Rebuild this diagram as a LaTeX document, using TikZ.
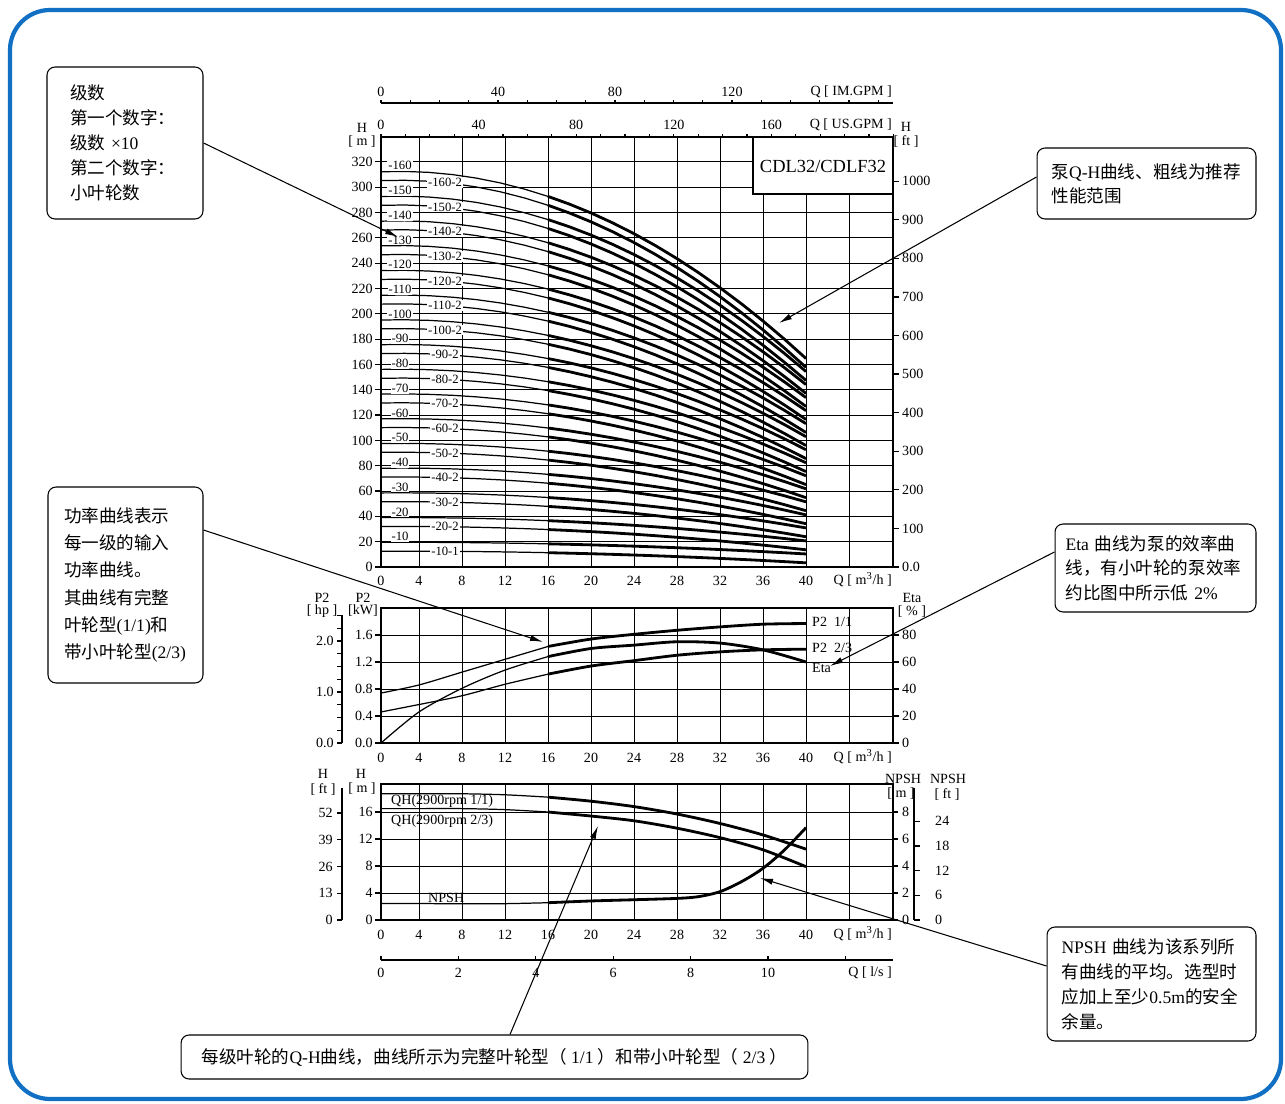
\documentclass[tikz,border=0pt]{standalone}
\usepackage{fontspec}
\setmainfont{Liberation Serif}
\newfontfamily\cjk{Noto Sans CJK SC}
\usepackage{tikz}
\usetikzlibrary{positioning,calc}
\usetikzlibrary{arrows.meta}

\definecolor{frameblue}{RGB}{18,112,196}

\begin{document}
\begin{tikzpicture}[
  x = 0.02cm,
  y = -0.02cm,
  declare function = {
    qx(\q) = 376+10.75*\q;
    hy(\h) = 567-1.266*\h;
    py(\p) = 743-67.5*\p;
    ey(\e) = 743-1.35*\e;
    by(\h) = 920-6.75*\h;
    ny(\h) = 920-13.5*\h;
    hone(\q) = 19.5+0.028*\q-0.00646*\q*\q;
  },
  gridline/.style = {line width=0.55pt},
  axisline/.style = {line width=0.7pt},
  thincurve/.style = {line width=0.7pt},
  thickcurve/.style = {line width=1.6pt},
  lab/.style = {font=\fontsize{8}{9}\selectfont, inner sep=0.5pt},
  curvelab/.style = {font=\fontsize{7.2}{8}\selectfont, fill=white, inner sep=0.6pt},
  notebox/.style = {
    draw,
    fill = white,
    rounded corners = 0.16cm,
    line width = 0.6pt,
    align = left,
    font = \fontsize{10}{14.2}\selectfont,
  },
  >={Latex[length=2.6mm,width=1.2mm]},
  pointer/.style = {->, line width=0.6pt},
]

  \useasboundingbox (0,0) rectangle (1285,1104);
  \draw[frameblue, line width=2.4pt, rounded corners=0.8cm] (10,10) rectangle (1281,1099);

  % upper scales
  \draw[axisline] (381,103) -- (893,103);
  \foreach \k in {0,...,17} \draw[axisline] ({381+29.25*\k},103) -- ++(0,-3);
  \foreach \g in {0,40,80,120} \node[lab] at ({381+2.925*\g},92) {\g};
  \node[lab, anchor=east] at (893,92) {Q [ IM.GPM ]};
  \foreach \k in {0,...,21} \draw[axisline] ({381+24.4*\k},137) -- ++(0,-3);
  \foreach \g in {0,40,...,160} \node[lab] at ({381+2.44*\g},125) {\g};
  \node[lab, anchor=east] at (893,125) {Q [ US.GPM ]};

  % Q-H chart
  \foreach \h in {20,40,...,320} \draw[gridline] (381,{hy(\h)}) -- (893,{hy(\h)});
  \foreach \q in {4,8,...,44} \draw[gridline] ({qx(\q)},137) -- ({qx(\q)},567);
  \draw[axisline] (381,137) rectangle (893,567);
  \node[lab] at (362,128) {H};
  \node[lab] at (362,142) {[ m ]};
  \foreach \h in {0,20,...,320} {
    \draw[axisline] (375,{hy(\h)}) -- (381,{hy(\h)});
    \node[lab, anchor=east] at (374,{hy(\h)}) {\h};
  }
  \node[lab] at (906,127) {H};
  \node[lab] at (906,141) {[ ft ]};
  \foreach \f in {100,200,...,1000} {
    \draw[axisline] (893,{567-0.3858*\f}) -- ++(6,0);
    \node[lab, anchor=west] at (901,{567-0.3858*\f}) {\f};
  }
  \draw[axisline] (893,567) -- ++(6,0);
  \node[lab, anchor=west] at (901,567) {0.0};
  \node[lab] at (381,581) {0};
  \foreach \q in {4,8,...,40} \node[lab] at ({qx(\q)},581) {\q};
  \node[lab, anchor=east] at (893,580) {Q [ m\textsuperscript{3}/h ]};

  \draw[axisline, fill=white] (753,137) rectangle (893,194);
  \node[font=\fontsize{10.5}{12}\selectfont] (model) at (823,166) {CDL32/CDLF32};

  \foreach \n in {1,...,16} {
    \pgfmathtruncatemacro\k{\n==1 ? 1 : 2}
    \draw[thincurve] plot[domain=0.47:16, samples=8] ({qx(\x)},{hy(\n*hone(\x))});
    \draw[thickcurve] plot[domain=16:40, samples=13] ({qx(\x)},{hy(\n*hone(\x))});
    \draw[thincurve] plot[domain=0.47:16, samples=8] ({qx(\x)},{hy(\n*hone(\x)-7)});
    \draw[thickcurve] plot[domain=16:40, samples=13] ({qx(\x)},{hy(\n*hone(\x)-7)});
    \node[curvelab, anchor=south] at (400,{hy(\n*hone(1.8))}) {-\n0};
    \node[curvelab] at (445,{hy(\n*hone(6.4)-7)}) {-\n0-\k};
  }

  % power / efficiency chart
  \foreach \p in {0.4,0.8,1.2,1.6} \draw[gridline] (381,{py(\p)}) -- (893,{py(\p)});
  \foreach \q in {4,8,...,44} \draw[gridline] ({qx(\q)},608) -- ({qx(\q)},743);
  \draw[axisline] (381,608) rectangle (893,743);
  \node[lab] at (363,598) {P2};
  \node[lab] at (363,611) {[kW]};
  \foreach \p in {0.0,0.4,0.8,1.2,1.6} {
    \draw[axisline] (375,{py(\p)}) -- (381,{py(\p)});
    \node[lab, anchor=east] at (374,{py(\p)}) {\p};
  }
  \node[lab] at (322,598) {P2};
  \node[lab] at (322,611) {[ hp ]};
  \draw[axisline] (342,615) -- (342,743);
  \foreach \k in {0,...,10} \draw[axisline] (337,{743-12.75*\k}) -- (342,{743-12.75*\k});
  \foreach \v/\k in {0.0/0,1.0/4,2.0/8} \node[lab, anchor=east] at (335,{743-12.75*\k}) {\v};
  \node[lab] at (912,598) {Eta};
  \node[lab] at (912,612) {[ \% ]};
  \foreach \e in {0,20,...,80} {
    \draw[axisline] (893,{ey(\e)}) -- ++(6,0);
    \node[lab, anchor=west] at (901,{ey(\e)}) {\e};
  }
  \node[lab] at (381,758) {0};
  \foreach \q in {4,8,...,40} \node[lab] at ({qx(\q)},758) {\q};
  \node[lab, anchor=east] at (893,757) {Q [ m\textsuperscript{3}/h ]};

  \draw[thincurve] plot[smooth] coordinates {({qx(0.47)},{py(0.74)}) ({qx(4)},{py(0.86)}) ({qx(8)},{py(1.05)}) ({qx(12)},{py(1.24)}) ({qx(16)},{py(1.43)})};
  \draw[thickcurve] plot[smooth] coordinates {({qx(16)},{py(1.43)}) ({qx(20)},{py(1.54)}) ({qx(24)},{py(1.61)}) ({qx(28)},{py(1.67)}) ({qx(32)},{py(1.72)}) ({qx(36)},{py(1.76)}) ({qx(40)},{py(1.77)})};
  \draw[thincurve] plot[smooth] coordinates {({qx(0.47)},{py(0.46)}) ({qx(4)},{py(0.57)}) ({qx(8)},{py(0.70)}) ({qx(12)},{py(0.87)}) ({qx(16)},{py(1.02)})};
  \draw[thickcurve] plot[smooth] coordinates {({qx(16)},{py(1.02)}) ({qx(20)},{py(1.14)}) ({qx(24)},{py(1.22)}) ({qx(28)},{py(1.30)}) ({qx(32)},{py(1.35)}) ({qx(36)},{py(1.38)}) ({qx(40)},{py(1.39)})};
  \draw[thincurve] plot[smooth] coordinates {({qx(0.47)},{ey(0)}) ({qx(4)},{ey(23)}) ({qx(8)},{ey(40.5)}) ({qx(12)},{ey(54)}) ({qx(16)},{ey(64)})};
  \draw[thickcurve] plot[smooth] coordinates {({qx(16)},{ey(64)}) ({qx(20)},{ey(70)}) ({qx(24)},{ey(72.5)}) ({qx(28)},{ey(75)}) ({qx(32)},{ey(74)}) ({qx(36)},{ey(69)}) ({qx(40)},{ey(60)})};
  \node[lab, anchor=west] (pfull) at (811,622) {P2\ \ 1/1};
  \node[lab, anchor=west] (psmall) at (811,648) {P2\ \ 2/3};
  \node[lab, anchor=west] (eta) at (811,668) {Eta};

  % Q-H / NPSH per stage chart
  \foreach \h in {4,8,12,16} \draw[gridline] (381,{by(\h)}) -- (893,{by(\h)});
  \foreach \q in {4,8,...,44} \draw[gridline] ({qx(\q)},784) -- ({qx(\q)},920);
  \draw[axisline] (381,784) rectangle (893,920);
  \node[lab] at (361,774) {H};
  \node[lab] at (362,789) {[ m ]};
  \foreach \h in {0,4,...,16} {
    \draw[axisline] (375,{by(\h)}) -- (381,{by(\h)});
    \node[lab, anchor=east] at (374,{by(\h)}) {\h};
  }
  \node[lab] at (323,774) {H};
  \node[lab] at (323,789) {[ ft ]};
  \draw[axisline] (342,788) -- (342,920);
  \foreach \f in {0,13,26,39,52} {
    \draw[axisline] (337,{920-2.0574*\f}) -- (342,{920-2.0574*\f});
    \node[lab, anchor=east] at (334,{920-2.0574*\f}) {\f};
  }
  \node[lab] at (903,779) {NPSH};
  \node[lab] at (901,794) {[ m ]};
  \node[lab] at (948,779) {NPSH};
  \node[lab] at (947,794) {[ ft ]};
  \foreach \h in {0,2,...,8} {
    \draw[axisline] (893,{ny(\h)}) -- ++(5,0);
    \node[lab, anchor=west] at (901,{ny(\h)}) {\h};
  }
  \draw[axisline] (914,788) -- (914,920);
  \foreach \f in {0,6,...,24} {
    \draw[axisline] (914,{920-4.115*\f}) -- ++(6,0);
    \node[lab, anchor=west] at (934,{920-4.115*\f}) {\f};
  }
  \node[lab] at (381,935) {0};
  \foreach \q in {4,8,...,40} \node[lab] at ({qx(\q)},935) {\q};
  \node[lab, anchor=east] at (893,934) {Q [ m\textsuperscript{3}/h ]};

  \draw[thincurve] plot[smooth] coordinates {({qx(0.47)},{by(18.7)}) ({qx(4)},{by(18.7)}) ({qx(8)},{by(18.7)}) ({qx(12)},{by(18.55)}) ({qx(16)},{by(18.2)})};
  \draw[thickcurve] plot[smooth] coordinates {({qx(16)},{by(18.2)}) ({qx(20)},{by(17.6)}) ({qx(24)},{by(16.8)}) ({qx(28)},{by(15.7)}) ({qx(32)},{by(14.3)}) ({qx(36)},{by(12.6)}) ({qx(40)},{by(10.5)})};
  \draw[thincurve] plot[smooth] coordinates {({qx(0.47)},{by(16.5)}) ({qx(4)},{by(16.5)}) ({qx(8)},{by(16.5)}) ({qx(12)},{by(16.35)}) ({qx(16)},{by(16.0)})};
  \draw[thickcurve] plot[smooth] coordinates {({qx(16)},{by(16.0)}) ({qx(20)},{by(15.4)}) ({qx(24)},{by(14.7)}) ({qx(28)},{by(13.6)}) ({qx(32)},{by(12.2)}) ({qx(36)},{by(10.4)}) ({qx(40)},{by(7.9)})};
  \draw[thincurve] plot[smooth] coordinates {({qx(0.47)},{ny(1.23)}) ({qx(4)},{ny(1.22)}) ({qx(8)},{ny(1.2)}) ({qx(12)},{ny(1.21)}) ({qx(16)},{ny(1.28)})};
  \draw[thickcurve] plot[smooth] coordinates {({qx(16)},{ny(1.28)}) ({qx(20)},{ny(1.41)}) ({qx(24)},{ny(1.5)}) ({qx(28)},{ny(1.6)}) ({qx(30)},{ny(1.73)}) ({qx(32)},{ny(2.1)}) ({qx(34)},{ny(2.84)}) ({qx(36)},{ny(3.83)}) ({qx(38)},{ny(5.19)}) ({qx(40)},{ny(6.84)})};
  \node[lab, anchor=west] (qhfull) at (390,801) {QH(2900rpm 1/1)};
  \node[lab, anchor=west] (qhsmall) at (390,821) {QH(2900rpm 2/3)};
  \node[lab, anchor=west] (npsh) at (427,898) {NPSH};

  % l/s scale
  \draw[axisline] (381,960) -- (893,960);
  \foreach \l in {0,2,...,12} \draw[axisline] ({381+38.7*\l},960) -- ++(0,-4);
  \foreach \l in {0,2,...,10} \node[lab] at ({381+38.7*\l},973) {\l};
  \node[lab, anchor=east] at (893,973) {Q [ l/s ]};

  % notes
  \node[notebox, text width=2.2cm, inner xsep=0.46cm, minimum height=3.04cm] (stageNote) at (125,143)
    {{\cjk 级数}\\{\cjk 第一个数字：}\\{\cjk 级数} ×10\\{\cjk 第二个数字：}\\{\cjk 小叶轮数}};
  \node[notebox, text width=3.8cm, inner xsep=0.29cm, minimum height=1.42cm,
        font=\fontsize{10}{13.6}\selectfont] (qhNote) at (1146.5,183.5)
    {{\cjk 泵}Q-H{\cjk 曲线、粗线为推荐}\\{\cjk 性能范围}};
  \node[notebox, text width=3.6cm, inner xsep=0.21cm, minimum height=1.76cm,
        font=\fontsize{10}{13.9}\selectfont] (etaNote) at (1155.5,568)
    {Eta {\cjk 曲线为泵的效率曲}\\{\cjk 线，有小叶轮的泵效率}\\{\cjk 约比图中所示低} 2\%};
  \node[notebox, text width=3.6cm, inner xsep=0.29cm, minimum height=2.28cm,
        font=\fontsize{10}{14.3}\selectfont] (npshNote) at (1151.5,984)
    {NPSH {\cjk 曲线为该系列所}\\{\cjk 有曲线的平均。选型时}\\{\cjk 应加上至少}0.5m{\cjk 的安全}\\{\cjk 余量。}};
  \node[notebox, text width=2.46cm, inner xsep=0.32cm, minimum height=3.92cm,
        font=\fontsize{10}{15.5}\selectfont] (powerNote) at (125.5,585)
    {{\cjk 功率曲线表示}\\{\cjk 每一级的输入}\\{\cjk 功率曲线。}\\{\cjk 其曲线有完整}\\{\cjk 叶轮型}(1/1){\cjk 和}\\{\cjk 带小叶轮型}(2/3)};
  \node[notebox, align=center, minimum width=12.54cm, minimum height=0.88cm] (unitNote) at (494.5,1057)
    {{\cjk 每级叶轮的}Q-H{\cjk 曲线，曲线所示为完整叶轮型（} 1/1 {\cjk ）和带小叶轮型（} 2/3 {\cjk ）}};

  \coordinate (stageTip) at (398,237);
  \coordinate (qhTip) at (779,323);
  \coordinate (etaTip) at (830,666);
  \coordinate (npshTip) at (760,878);
  \coordinate (unitTip) at (598,826);
  \coordinate (powerTip) at (543,642);
  \draw[pointer] (stageNote.east) -- (stageTip);
  \draw[pointer] ([yshift=0.13cm]qhNote.west) -- (qhTip);
  \draw[pointer] ([yshift=0.32cm]etaNote.west) -- (etaTip);
  \draw[pointer] ([yshift=0.36cm]npshNote.west) -- (npshTip);
  \draw[pointer] ([xshift=0.31cm]unitNote.north) -- (unitTip);
  \draw[pointer] ([yshift=1.1cm]powerNote.east) -- (powerTip);
\end{tikzpicture}
\end{document}
